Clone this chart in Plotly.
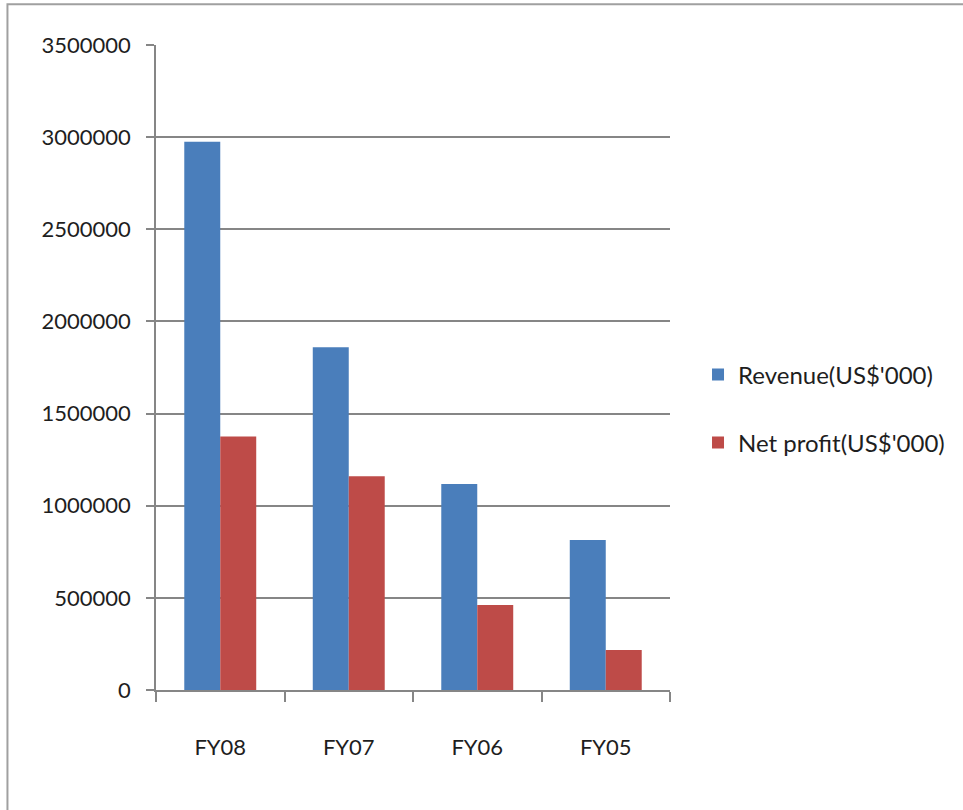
import plotly.graph_objects as go

# Fiscal years and figures (US$'000)
years = ["FY08", "FY07", "FY06", "FY05"]
revenue = [2975000, 1860000, 1118000, 814000]
net_profit = [1375000, 1160000, 461000, 217000]
y_ticks = [0, 500000, 1000000, 1500000, 2000000, 2500000, 3000000, 3500000]

BLUE = "#4a7ebb"
RED = "#be4b48"
GRID = "#868686"
FONT = "Lato"
TEXT = "#1e1e1e"

fig = go.Figure()
fig.add_trace(go.Bar(x=years, y=revenue, name="Revenue(US$'000)",
                     marker=dict(color=BLUE, line=dict(width=0)),
                     legendgroup="rev"))
fig.add_trace(go.Bar(x=years, y=net_profit, name="Net profit(US$'000)",
                     marker=dict(color=RED, line=dict(width=0)),
                     legendgroup="np"))

fig.update_layout(
    width=963, height=810,
    margin=dict(l=156, r=293, t=45, b=120),
    paper_bgcolor="white", plot_bgcolor="white",
    barmode="group", bargap=0.44, bargroupgap=0,
    font=dict(family=FONT, size=22, color=TEXT),
    showlegend=True,
    legend=dict(x=1.0545, y=0.436, xanchor="left", yanchor="middle",
                tracegroupgap=34, font=dict(size=24, color=TEXT),
                bgcolor="rgba(0,0,0,0)"),
    shapes=[dict(type="rect", xref="paper", yref="paper",
                 x0=-0.289, x1=1.7, y0=-0.3, y1=1.063,
                 line=dict(color="#a0a0a0", width=2), layer="below")],
)
fig.update_xaxes(
    type="category", showline=True, linecolor=GRID, linewidth=1.5,
    ticks="outside", tickson="boundaries", ticklen=10, tickcolor=GRID,
    tickwidth=1.5, showgrid=False, ticklabelstandoff=37,
    tickfont=dict(size=22),
)
fig.update_yaxes(
    range=[0, 3500000], tickvals=y_ticks, tickformat="d",
    showline=True, linecolor=GRID, linewidth=1.5,
    ticks="outside", ticklen=8, tickcolor=GRID, tickwidth=1.5,
    showgrid=True, gridcolor=GRID, gridwidth=1.5, zeroline=False,
    ticklabelstandoff=11, tickfont=dict(size=22),
)

fig.write_html("out.html")
